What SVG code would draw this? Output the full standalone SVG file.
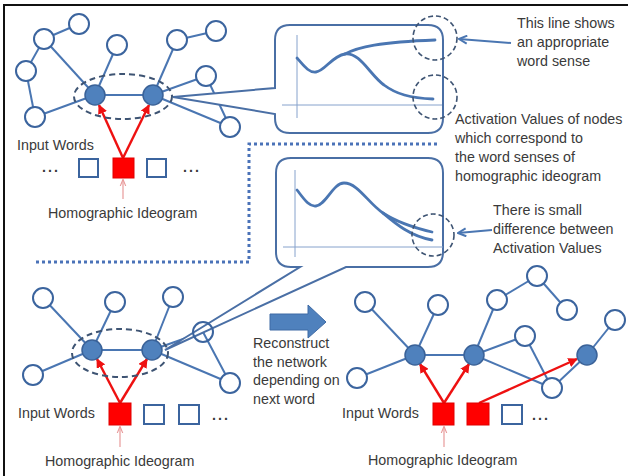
<svg xmlns="http://www.w3.org/2000/svg" width="628" height="476" viewBox="0 0 628 476">
  <style>
    .edge { stroke: #4a76b2; stroke-width: 2; fill: none; }
    .open { fill: #ffffff; stroke: #3b649e; stroke-width: 2; }
    .hub { fill: #4f81bd; stroke: #3a6298; stroke-width: 1.5; }
    .group { fill: none; stroke: #3e5473; stroke-width: 2; stroke-dasharray: 6 4; }
    .focus { fill: none; stroke: #3e5473; stroke-width: 1.6; stroke-dasharray: 5 3; }
    .word { fill: #ffffff; stroke: #3b649e; stroke-width: 2; }
    .ideo { fill: #ff0000; stroke: #e00000; stroke-width: 1; }
    .link { stroke: #ee1111; stroke-width: 2.4; fill: none; marker-end: url(#redHead); }
    .cue { stroke: #e89a9a; stroke-width: 1.2; fill: none; marker-end: url(#pinkHead); }
    .bubble { fill: #ffffff; stroke: #4a6fa5; stroke-width: 2; }
    .axis { stroke: #86a2cc; stroke-width: 1; fill: none; }
    .curve { stroke: #4a76b2; stroke-width: 2.8; fill: none; stroke-linecap: round; }
    .pointer { stroke: #4a76b2; stroke-width: 2; fill: none; marker-end: url(#blueHead); }
    .sep { stroke: #4a72b8; stroke-width: 3; stroke-dasharray: 3 3; fill: none; }
    text { font-family: "Liberation Sans", Arial, sans-serif; font-size: 14.3px; fill: #3a3a3a; }
    .dots { font-weight: bold; letter-spacing: 2px; }
  </style>
  <defs>
    <marker id="redHead" viewBox="0 0 10 10" refX="9" refY="5" markerWidth="4" markerHeight="4" orient="auto" markerUnits="strokeWidth">
      <path d="M0,0 L10,5 L0,10 Z" fill="#ee1111"/>
    </marker>
    <marker id="pinkHead" viewBox="0 0 10 10" refX="9" refY="5" markerWidth="6" markerHeight="6" orient="auto" markerUnits="strokeWidth">
      <path d="M0,1 L10,5 L0,9" fill="none" stroke="#e89a9a" stroke-width="1.5"/>
    </marker>
    <marker id="blueHead" viewBox="0 0 10 10" refX="9" refY="5" markerWidth="5" markerHeight="5" orient="auto" markerUnits="strokeWidth">
      <path d="M1,1 L9,5 L1,9" fill="none" stroke="#4a76b2" stroke-width="2"/>
    </marker>
  </defs>

  <rect width="628" height="476" fill="#ffffff"/>
  <!-- frame -->
  <path d="M4,476 V5 H628" fill="none" stroke="#111111" stroke-width="2"/>

  <!-- dotted separator between the two states -->
  <path class="sep" d="M437,144 H249 V262 H35"/>

  <!-- connectors -->
  <g id="connectors">
    <!-- upper network -->
    <line class="edge" x1="79" y1="24" x2="44" y2="39"/>
    <line class="edge" x1="44" y1="39" x2="26" y2="71"/>
    <line class="edge" x1="26" y1="71" x2="35" y2="117"/>
    <line class="edge" x1="35" y1="117" x2="95" y2="95"/>
    <line class="edge" x1="44" y1="39" x2="95" y2="95"/>
    <line class="edge" x1="117" y1="45" x2="95" y2="95"/>
    <line class="edge" x1="95" y1="95" x2="153" y2="95"/>
    <line class="edge" x1="177" y1="40" x2="153" y2="95"/>
    <line class="edge" x1="177" y1="40" x2="216" y2="31"/>
    <line class="edge" x1="153" y1="95" x2="206" y2="76"/>
    <line class="edge" x1="206" y1="76" x2="230" y2="127"/>
    <line class="edge" x1="153" y1="95" x2="230" y2="127"/>

    <!-- lower-left network -->
    <line class="edge" x1="43" y1="298" x2="92" y2="350"/>
    <line class="edge" x1="115" y1="302" x2="92" y2="350"/>
    <line class="edge" x1="33" y1="375" x2="92" y2="350"/>
    <line class="edge" x1="92" y1="350" x2="152" y2="350"/>
    <line class="edge" x1="173" y1="297" x2="152" y2="350"/>
    <line class="edge" x1="152" y1="350" x2="203" y2="332"/>
    <line class="edge" x1="152" y1="350" x2="230" y2="383"/>
    <line class="edge" x1="203" y1="332" x2="230" y2="383"/>

    <!-- lower-right network -->
    <line class="edge" x1="365" y1="302" x2="415" y2="355"/>
    <line class="edge" x1="438" y1="305" x2="415" y2="355"/>
    <line class="edge" x1="357" y1="378" x2="415" y2="355"/>
    <line class="edge" x1="415" y1="355" x2="474" y2="355"/>
    <line class="edge" x1="497" y1="300" x2="474" y2="355"/>
    <line class="edge" x1="497" y1="300" x2="537" y2="276"/>
    <line class="edge" x1="537" y1="276" x2="567" y2="310"/>
    <line class="edge" x1="525" y1="336" x2="474" y2="355"/>
    <line class="edge" x1="525" y1="336" x2="552" y2="388"/>
    <line class="edge" x1="474" y1="355" x2="552" y2="388"/>
    <line class="edge" x1="552" y1="388" x2="587" y2="355"/>
    <line class="edge" x1="587" y1="355" x2="615" y2="320"/>

    <!-- input words activating sense nodes -->
    <line class="link" x1="123" y1="158" x2="99" y2="105"/>
    <line class="link" x1="123" y1="158" x2="149" y2="105"/>
    <line class="link" x1="120" y1="403" x2="97" y2="359"/>
    <line class="link" x1="120" y1="403" x2="147" y2="359"/>
    <line class="link" x1="444" y1="403" x2="420" y2="364"/>
    <line class="link" x1="444" y1="403" x2="469" y2="364"/>
    <line class="link" x1="479" y1="403" x2="577" y2="359"/>

    <!-- label pointers for the ideogram -->
    <line class="cue" x1="123" y1="199" x2="123" y2="180"/>
    <line class="cue" x1="120" y1="447" x2="120" y2="427"/>
    <line class="cue" x1="444" y1="447" x2="444" y2="427"/>

    <!-- annotation pointers -->
    <line class="pointer" x1="511" y1="43" x2="459" y2="39"/>
    <line class="pointer" x1="492" y1="230" x2="458" y2="233"/>
  </g>

  <!-- upper network nodes -->
  <g id="upper-net">
    <circle class="open" cx="79" cy="24" r="10"/>
    <circle class="open" cx="44" cy="39" r="10"/>
    <circle class="open" cx="26" cy="71" r="10"/>
    <circle class="open" cx="35" cy="117" r="10"/>
    <circle class="open" cx="117" cy="45" r="10"/>
    <circle class="open" cx="177" cy="40" r="10"/>
    <circle class="open" cx="216" cy="31" r="10"/>
    <circle class="open" cx="206" cy="76" r="10"/>
    <circle class="open" cx="230" cy="127" r="10"/>
    <circle class="hub" cx="95" cy="95" r="10"/>
    <circle class="hub" cx="153" cy="95" r="10"/>
    <ellipse class="group" cx="123" cy="96.5" rx="49" ry="22.5"/>
  </g>

  <!-- upper input words -->
  <g id="upper-words">
    <text x="17" y="150">Input Words</text>
    <text class="dots" x="42" y="172">...</text>
    <rect class="word" x="79" y="159" width="19" height="18"/>
    <rect class="ideo" x="113" y="158" width="21" height="20"/>
    <rect class="word" x="147" y="159" width="19" height="18"/>
    <text class="dots" x="183" y="172">...</text>
    <text x="48" y="218">Homographic Ideogram</text>
  </g>

  <!-- upper activation chart callout -->
  <g id="chart-upper">
    <path class="bubble" d="M290,25 H428 Q443,25 443,40 V118 Q443,133 428,133 H290 Q275,133 275,118 V114 L173,97 L275,88 V40 Q275,25 290,25 Z"/>
    <line class="axis" x1="297" y1="35" x2="297" y2="118"/>
    <line class="axis" x1="282" y1="105" x2="442" y2="105"/>
    <path class="curve" d="M297,58 C304,66 309,73 316,72 C325,71 332,56 345,54 C358,47 380,42 435,40"/>
    <path class="curve" d="M345,54 C360,52 370,75 384,85 C396,94 410,98 433,99"/>
    <circle class="focus" cx="435" cy="38" r="22"/>
    <circle class="focus" cx="435" cy="97" r="22"/>
  </g>

  <!-- upper annotations -->
  <g id="note-upper">
    <text x="517" y="28">This line shows</text>
    <text x="517" y="47">an appropriate</text>
    <text x="517" y="66">word sense</text>
    <text x="455" y="124">Activation Values of nodes</text>
    <text x="455" y="143">which correspond to</text>
    <text x="455" y="162">the word senses of</text>
    <text x="455" y="181">homographic ideogram</text>
  </g>

  <!-- lower activation chart callout -->
  <g id="chart-lower">
    <path class="bubble" d="M291,158 H428 Q443,158 443,173 V252 Q443,267 428,267 H346 L165,350 L300,267 H291 Q276,267 276,252 V173 Q276,158 291,158 Z"/>
    <line class="axis" x1="295" y1="170" x2="295" y2="257"/>
    <line class="axis" x1="283" y1="247" x2="443" y2="247"/>
    <path class="curve" d="M297,190 C304,199 309,207 316,206 C326,205 333,183 344,183 C358,183 368,203 383,213 C398,223 415,228 432,232"/>
    <path class="curve" d="M383,213 C396,224 410,236 432,240"/>
    <circle class="focus" cx="433" cy="235" r="21"/>
  </g>

  <!-- lower annotation -->
  <g id="note-lower">
    <text x="493" y="215">There is small</text>
    <text x="493" y="234">difference between</text>
    <text x="493" y="253">Activation Values</text>
  </g>

  <!-- lower-left network nodes -->
  <g id="left-net">
    <circle class="open" cx="43" cy="298" r="10"/>
    <circle class="open" cx="115" cy="302" r="10"/>
    <circle class="open" cx="173" cy="297" r="10"/>
    <circle class="open" cx="33" cy="375" r="10"/>
    <circle class="open" cx="230" cy="383" r="10"/>
    <circle class="hub" cx="92" cy="350" r="10"/>
    <circle class="hub" cx="152" cy="350" r="10"/>
    <ellipse class="group" cx="120" cy="353" rx="48" ry="24"/>
    <!-- node sitting on the callout tail -->
    <circle cx="203" cy="332" r="10" fill="none" stroke="#3b649e" stroke-width="2"/>
  </g>

  <!-- lower-left input words -->
  <g id="left-words">
    <text x="18" y="418">Input Words</text>
    <rect class="ideo" x="109" y="403" width="22" height="22"/>
    <rect class="word" x="144" y="405" width="20" height="19"/>
    <rect class="word" x="179" y="405" width="20" height="19"/>
    <text class="dots" x="212" y="420">...</text>
    <text x="45" y="466">Homographic Ideogram</text>
  </g>

  <!-- transition arrow -->
  <g id="reconstruct">
    <path d="M270,314 H308 V305 L326,322 L308,338 V330 H270 Z" fill="#4f81bd" stroke="#3e6aa5" stroke-width="1"/>
    <text x="253" y="348">Reconstruct</text>
    <text x="253" y="367">the network</text>
    <text x="253" y="385">depending on</text>
    <text x="253" y="404">next word</text>
  </g>

  <!-- lower-right network nodes -->
  <g id="right-net">
    <circle class="open" cx="365" cy="302" r="10"/>
    <circle class="open" cx="438" cy="305" r="10"/>
    <circle class="open" cx="497" cy="300" r="10"/>
    <circle class="open" cx="537" cy="276" r="10"/>
    <circle class="open" cx="567" cy="310" r="10"/>
    <circle class="open" cx="525" cy="336" r="10"/>
    <circle class="open" cx="615" cy="320" r="10"/>
    <circle class="open" cx="357" cy="378" r="10"/>
    <circle class="open" cx="552" cy="388" r="10"/>
    <circle class="hub" cx="415" cy="355" r="10"/>
    <circle class="hub" cx="474" cy="355" r="10"/>
    <circle class="hub" cx="587" cy="355" r="10"/>
  </g>

  <!-- lower-right input words -->
  <g id="right-words">
    <text x="342" y="418">Input Words</text>
    <rect class="ideo" x="433" y="403" width="21" height="22"/>
    <rect class="ideo" x="467" y="403" width="22" height="22"/>
    <rect class="word" x="502" y="405" width="20" height="19"/>
    <text class="dots" x="532" y="420">...</text>
    <text x="368" y="465">Homographic Ideogram</text>
  </g>
</svg>
